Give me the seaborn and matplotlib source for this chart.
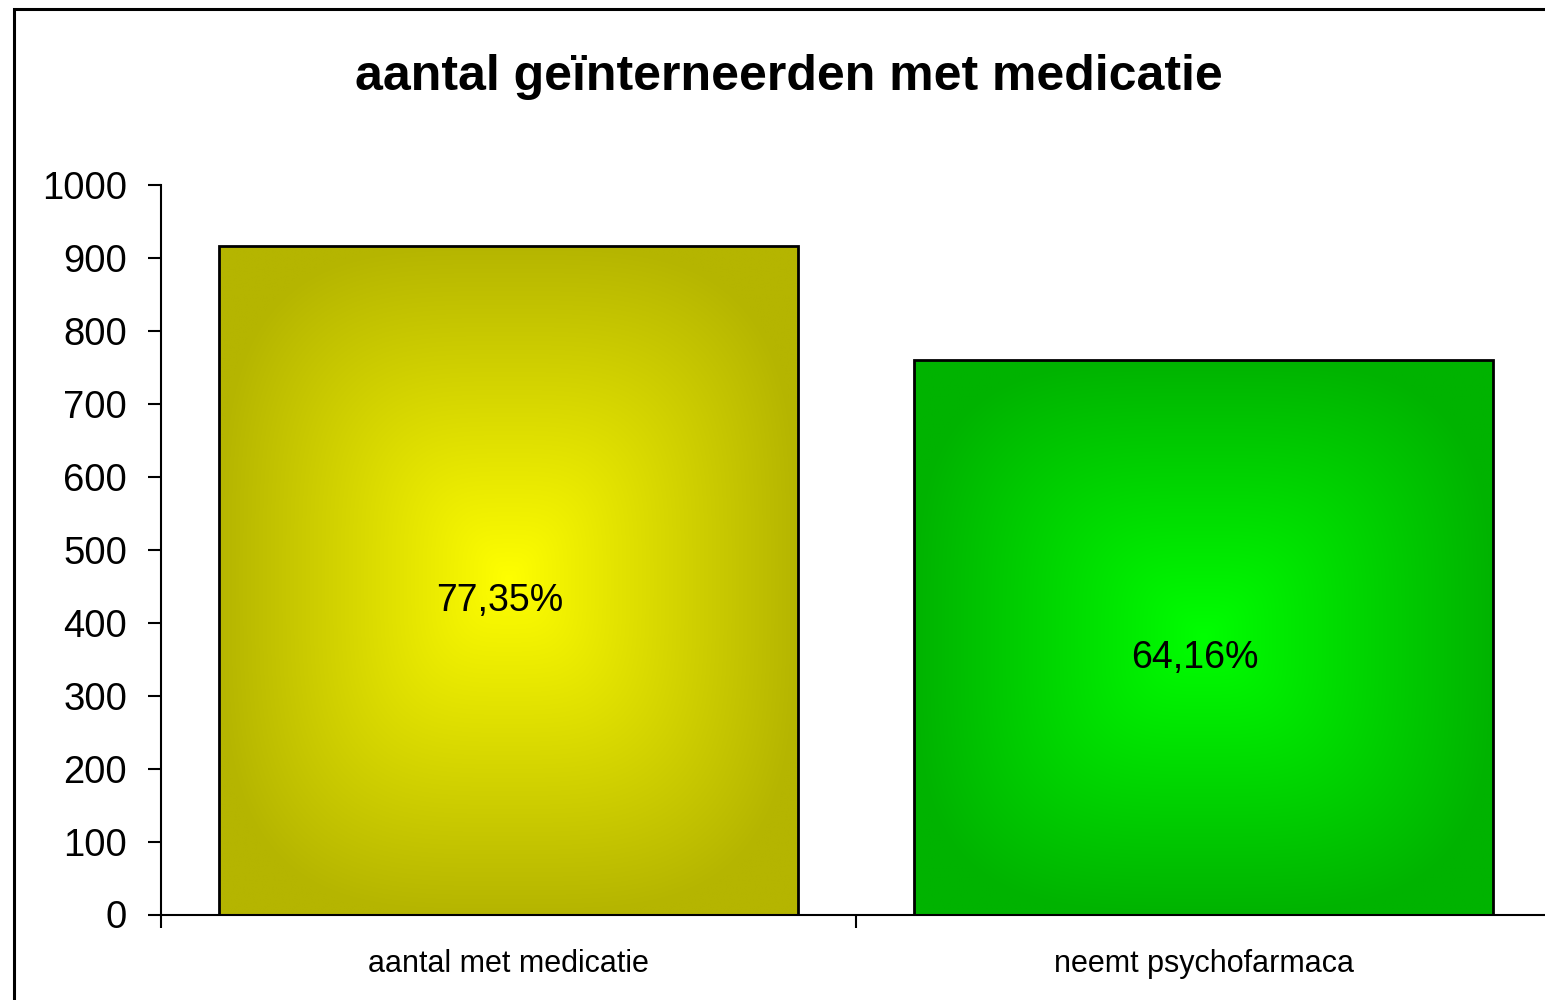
import numpy as np
import pandas as pd
import matplotlib
matplotlib.use("Agg")
import matplotlib.pyplot as plt
import matplotlib.patches as mpatches
from matplotlib.colors import to_rgb
import seaborn as sns

# ---- data ----
categories = ["aantal met medicatie", "neemt psychofarmaca"]
values = [917, 760]
percentages = [77.35, 64.16]
title = "aantal geïnterneerden met medicatie"
yticks = [0, 100, 200, 300, 400, 500, 600, 700, 800, 900, 1000]
edge_colors = ["#b5b500", "#00b300"]
center_colors = ["#ffff00", "#00ff00"]

sns.set_style("white")
plt.rcParams["font.family"] = ["Liberation Sans", "DejaVu Sans"]
plt.rcParams["text.color"] = "black"
plt.rcParams["xtick.color"] = "black"
plt.rcParams["ytick.color"] = "black"
plt.rcParams["xtick.labelcolor"] = "black"
plt.rcParams["ytick.labelcolor"] = "black"

W, H = 1545, 1000
fig = plt.figure(figsize=(W / 100, H / 100), dpi=100)
ax = fig.add_axes([161 / W, 1 - 914.5 / H, 1390 / W, 729.5 / H])

df = pd.DataFrame({"cat": categories, "val": values})
sns.barplot(data=df, x="cat", y="val", ax=ax, width=0.834,
            color="white", edgecolor="black", linewidth=2.0, zorder=3)

# gradient fills clipped to the bars
n = 300
u = np.linspace(-1, 1, n)
U, V = np.meshgrid(u, u)
p = 3.5
T = np.clip((np.abs(U) ** p + np.abs(V) ** p) ** (1 / p), 0, 1)
for patch, ec, cc in zip(ax.patches, edge_colors, center_colors):
    x0, y0 = patch.get_x(), patch.get_y()
    w, h = patch.get_width(), patch.get_height()
    e = np.array(to_rgb(ec))
    c = np.array(to_rgb(cc))
    img = c[None, None, :] * (1 - T[..., None]) + e[None, None, :] * T[..., None]
    im = ax.imshow(img, extent=[x0, x0 + w, y0, y0 + h], aspect="auto",
                   origin="lower", zorder=2, interpolation="bilinear")
    im.set_clip_path(patch)
    patch.set_facecolor("none")
ax.set_xlim(-0.5, 1.5)
ax.set_ylim(0, 1000)

# data labels
for i, (v, pct) in enumerate(zip(values, percentages)):
    ax.annotate(f"{pct:.2f}%".replace(".", ","), xy=(i, v / 2),
                xytext=(-6, -15), textcoords="offset points",
                ha="center", va="center", fontsize=27, color="black", zorder=5)

# axes styling
for s in ["top", "right"]:
    ax.spines[s].set_visible(False)
for s in ["left", "bottom"]:
    ax.spines[s].set_color("black")
    ax.spines[s].set_linewidth(1.5)
    ax.spines[s].set_zorder(6)

ax.set_yticks(yticks)
ax.set_yticklabels([str(t) for t in yticks])
ax.tick_params(axis="y", direction="out", length=9.5, width=1.5,
               color="black", labelcolor="black", labelsize=27.5, pad=15, left=True)

ax.set_xticks([-0.5, 0.5, 1.5])
ax.set_xticklabels(["", "", ""])
ax.set_xticks([0, 1], minor=True)
ax.set_xticklabels(categories, minor=True)
ax.tick_params(axis="x", which="major", direction="out", length=9.5,
               width=1.5, color="black", bottom=True)
ax.tick_params(axis="x", which="minor", length=0, labelsize=22,
               labelcolor="black", pad=25)
ax.set_xlabel("")
ax.set_ylabel("")

fig.text(789 / W, 1 - 90 / H, title, ha="center", va="baseline",
         fontsize=36, fontweight="bold", color="black")

# outer chart border (cropped on right and bottom)
border = mpatches.Rectangle((14 / W, -0.1), 1.2, 1.1 - 9 / H,
                            transform=fig.transFigure, fill=False,
                            edgecolor="black", linewidth=2.2, clip_on=False)
fig.patches.append(border)

fig.savefig("out.png", dpi=100)
